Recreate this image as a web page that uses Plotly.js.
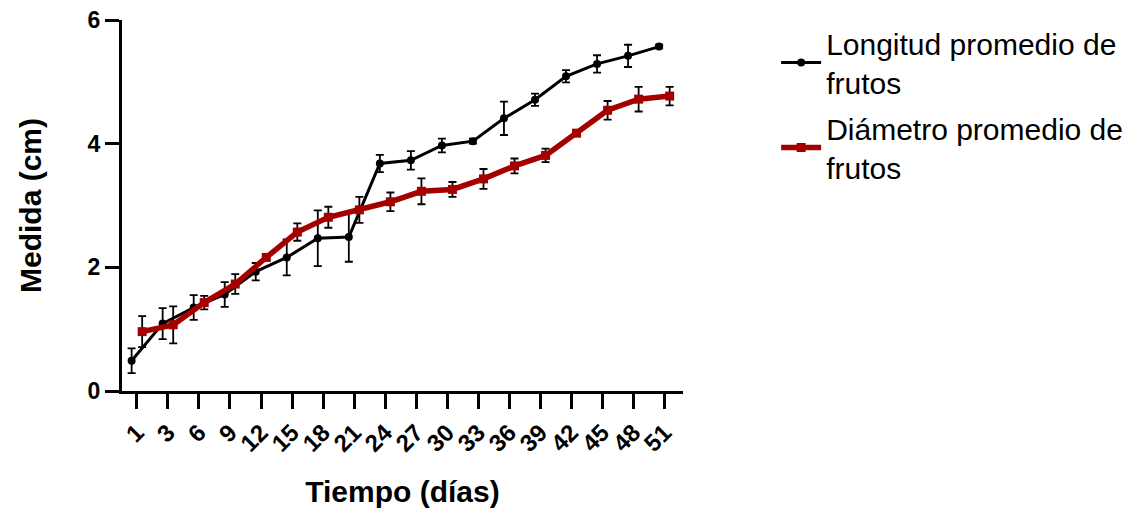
<!DOCTYPE html>
<html>
<head>
<meta charset="utf-8">
<script src="https://cdn.plot.ly/plotly-3.0.1.min.js"></script>
<style>
  html, body { margin: 0; padding: 0; background: #ffffff; }
  #chart { width: 1145px; height: 511px; }
</style>
</head>
<body>
<div id="chart"></div>
<script>
// Tick labels / categories (días)
const days = ['1','3','6','9','12','15','18','21','24','27','30','33','36','39','42','45','48','51'];

// Longitud promedio de frutos (cm) and its error
const longitud    = [0.49,1.09,1.35,1.56,1.93,2.16,2.47,2.49,3.68,3.73,3.97,4.04,4.41,4.71,5.09,5.29,5.42,5.57];
const longitudErr = [0.20,0.25,0.20,0.20,0.14,0.29,0.45,0.40,0.14,0.15,0.11,0.04,0.27,0.10,0.10,0.14,0.18,0.03];

// Diámetro promedio de frutos (cm) and its error
const diametro    = [0.96,1.07,1.43,1.73,2.16,2.57,2.81,2.93,3.06,3.23,3.26,3.43,3.64,3.81,4.17,4.54,4.72,4.77];
const diametroErr = [0.25,0.30,0.11,0.16,0.04,0.14,0.17,0.21,0.15,0.21,0.12,0.16,0.12,0.11,0.04,0.15,0.20,0.15];

const seriesNames = ['Longitud promedio de<br>frutos', 'Diámetro promedio de<br>frutos'];

const FONT = 'Liberation Sans, Arial, Helvetica, sans-serif';
const RED = '#a50000';

const traces = [
  {
    type: 'scatter', mode: 'lines+markers',
    x: days, y: longitud, name: seriesNames[0],
    offsetgroup: 'a', legendgroup: 'a',
    line: { color: '#000000', width: 3 },
    marker: { color: '#000000', size: 8, symbol: 'circle' },
    error_y: { type: 'data', array: longitudErr, visible: true, color: '#000000', thickness: 1.8, width: 4 }
  },
  {
    type: 'scatter', mode: 'lines+markers',
    x: days, y: diametro, name: seriesNames[1],
    offsetgroup: 'b', legendgroup: 'b',
    line: { color: RED, width: 5.5 },
    marker: { color: RED, size: 9, symbol: 'square' },
    error_y: { type: 'data', array: diametroErr, visible: true, color: '#000000', thickness: 1.8, width: 4 }
  }
];

const layout = {
  width: 1145, height: 511,
  margin: { l: 122, r: 462, t: 20, b: 120 },
  paper_bgcolor: '#ffffff', plot_bgcolor: '#ffffff',
  font: { family: FONT, color: '#000000' },
  scattermode: 'group',
  scattergap: 0.32,
  showlegend: true,
  legend: {
    x: 1.166, xanchor: 'left', y: 1.008, yanchor: 'top',
    font: { family: FONT, size: 30, color: '#000000' },
    itemwidth: 40, tracegroupgap: 4, valign: 'middle',
    bgcolor: 'rgba(0,0,0,0)'
  },
  xaxis: {
    type: 'category',
    range: [-0.48, 17.6],
    showline: true, linecolor: '#000000', linewidth: 3,
    ticks: 'outside', ticklen: 15, tickwidth: 3, tickcolor: '#000000',
    tickangle: -45,
    tickfont: { family: FONT, size: 24, color: '#000000', weight: 'bold' },
    showgrid: false, zeroline: false, automargin: false,
    title: { text: '<b>Tiempo (días)</b>', font: { family: FONT, size: 30, color: '#000000' }, standoff: 26 }
  },
  yaxis: {
    range: [0, 6],
    tickvals: [0, 2, 4, 6],
    showline: true, linecolor: '#000000', linewidth: 3,
    ticks: 'outside', ticklen: 14, tickwidth: 3, tickcolor: '#000000',
    tickfont: { family: FONT, size: 23, color: '#000000', weight: 'bold' },
    showgrid: false, zeroline: false, automargin: false,
    title: { text: '<b>Medida (cm)</b>', font: { family: FONT, size: 30, color: '#000000' }, standoff: 38 }
  }
};

Plotly.newPlot('chart', traces, layout, { staticPlot: true, displayModeBar: false });
</script>
</body>
</html>
